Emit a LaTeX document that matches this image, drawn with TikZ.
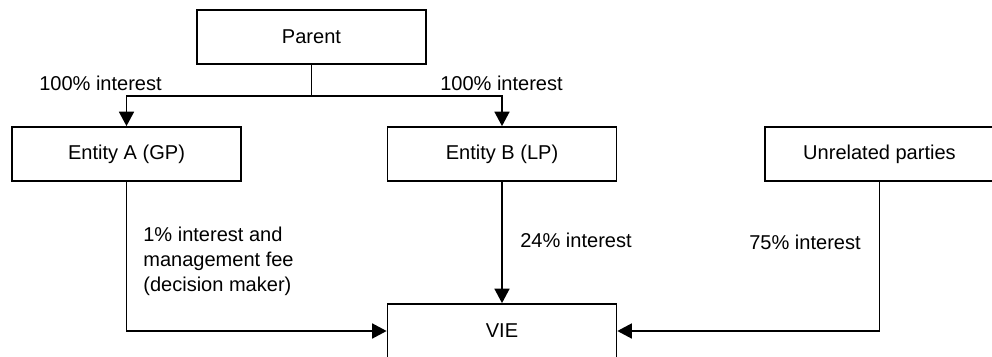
\documentclass[tikz,border=0pt]{standalone}
\usepackage{fontspec}
\setmainfont{Liberation Sans}
\usepackage{tikz}
\usetikzlibrary{arrows.meta,positioning,calc}

\begin{document}
\begin{tikzpicture}[
  x=0.02cm,y=-0.02cm,
  font=\fontsize{11.4}{14.2}\selectfont,
  box/.style={rectangle,draw=black,line width=1pt,minimum width=4.58cm,minimum height=1.08cm,inner sep=0pt},
  edge/.style={-{Triangle[length=0.29cm,width=0.3cm]},line width=1pt,black},
  lbl/.style={inner sep=0pt,align=left}
]
\useasboundingbox (0,0) rectangle (992,356);
\node[box] (parent) at (311.5,37) {Parent};
\node[box] (entA) at (126.5,154) {Entity A (GP)};
\node[box] (entB) at (502,154) {Entity B (LP)};
\node[box] (unrel) at (879.5,154) {Unrelated parties};
\node[box] (vie) at (502,331) {VIE};
\coordinate (split) at (311.5,96);
\draw[line width=1pt] (parent) -- (split);
\draw[edge] (split) -| (entA);
\draw[edge] (split) -| (entB);
\draw[edge] (entB) -- (vie);
\draw[edge] (entA) |- (vie);
\draw[edge] (unrel) |- (vie);
\node[lbl] (pctA) at (100.5,83) {100\% interest};
\node[lbl] (pctB) at (501.5,83) {100\% interest};
\node[lbl,anchor=west] (fee) at (143,261) {1\% interest and\\management fee\\(decision maker)};
\node[lbl,anchor=west] (pct24) at (520,240) {24\% interest};
\node[lbl,anchor=west] (pct75) at (749,242) {75\% interest};
\end{tikzpicture}
\end{document}
